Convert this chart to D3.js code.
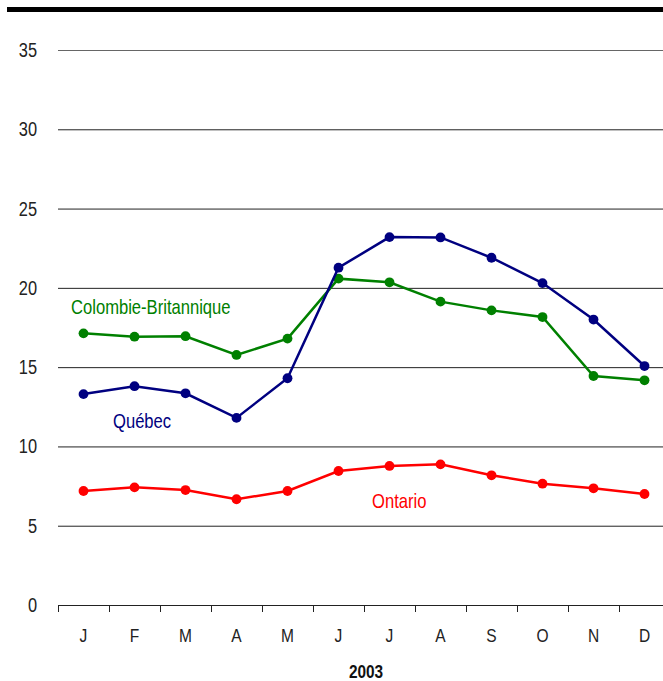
<!DOCTYPE html>
<html>
<head>
<meta charset="utf-8">
<script src="https://cdn.jsdelivr.net/npm/d3@7"></script>
<style>
body { margin: 0; background: #fff; }
text { font-family: "Liberation Sans Narrow", "Arial Narrow", "Liberation Sans", Arial, sans-serif; }
</style>
</head>
<body>
<svg id="chart" width="663" height="681"></svg>
<script>
const months = ["J","F","M","A","M","J","J","A","S","O","N","D"];
const yTicks = [0,5,10,15,20,25,30,35];
const quebec = [13.3,13.8,13.35,11.8,14.3,21.27,23.2,23.18,21.9,20.3,18.0,15.07];
const colombie = [17.13,16.92,16.95,15.77,16.8,20.58,20.35,19.13,18.58,18.16,14.44,14.17];
const ontario = [7.19,7.42,7.25,6.67,7.19,8.45,8.77,8.87,8.18,7.65,7.36,7.0];

const width = 663;
const plotLeft = 58;
const plotRight = 663;
const narrow = 0.8;

const svg = d3.select("#chart");

const x = d3.scaleBand()
    .domain(d3.range(12))
    .range([plotLeft, plotLeft + 12*51]);

const y = d3.scaleLinear()
    .domain([0,35])
    .range([605,50]);

// condensed text: the narrow font is not around, so squeeze a normal one
const narrowText = (parent,str,tx,ty,size,anchor,sx=narrow) =>
{
    return parent.append("text")
        .attr("transform",`translate(${tx},${ty}) scale(${sx},1)`)
        .attr("text-anchor",anchor)
        .attr("font-size",size)
        .text(str);
}

// top bar
svg.append("rect")
    .attr("x",7)
    .attr("y",7)
    .attr("width",width-7)
    .attr("height",5)
    .attr("fill","#000");

// grid lines
svg.append("g")
    .selectAll("line")
    .data(yTicks.filter(d => d > 0))
    .join("line")
    .attr("x1",plotLeft)
    .attr("x2",plotRight)
    .attr("y1",d => y(d)+0.5)
    .attr("y2",d => y(d)+0.5)
    .attr("stroke",d => d == 35 ? "#666" : "#222")
    .attr("stroke-width",1);

// y labels
const yLab = svg.append("g").attr("fill","#222");
for (const t of yTicks)
{
    narrowText(yLab,t,37,y(t)+7,20.5,"end");
}

// x axis
const xAxis = svg.append("g");
xAxis.append("line")
    .attr("x1",plotLeft)
    .attr("x2",plotRight)
    .attr("y1",605.5)
    .attr("y2",605.5)
    .attr("stroke","#222");

xAxis.selectAll("line.tick")
    .data(d3.range(12))
    .join("line")
    .attr("class","tick")
    .attr("x1",d => x(d)+0.5)
    .attr("x2",d => x(d)+0.5)
    .attr("y1",605)
    .attr("y2",612)
    .attr("stroke","#222");

const xLab = xAxis.append("g").attr("fill","#222");
months.forEach((m,i) =>
{
    narrowText(xLab,m,x(i) + x.bandwidth()/2,642,18.5,"middle",0.84);
});

narrowText(svg,"2003",366,678,17.5,"middle",0.88)
    .attr("font-weight","bold")
    .attr("fill","#111");

const series = [
    {name:"Ontario", values:ontario, color:"#ff0000"},
    {name:"Colombie-Britannique", values:colombie, color:"#008000"},
    {name:"Québec", values:quebec, color:"#000080"}
];

const line = d3.line()
    .x((d,i) => x(i) + x.bandwidth()/2)
    .y(d => y(d));

for (const s of series)
{
    const g = svg.append("g");
    g.append("path")
        .attr("d",line(s.values))
        .attr("fill","none")
        .attr("stroke",s.color)
        .attr("stroke-width",2.5);
    g.selectAll("circle")
        .data(s.values)
        .join("circle")
        .attr("cx",(d,i) => x(i) + x.bandwidth()/2)
        .attr("cy",d => y(d))
        .attr("r",4.9)
        .attr("fill",s.color);
}

// series labels
const labels = [
    {text:"Colombie-Britannique", x:71, y:314, color:"#008000"},
    {text:"Québec", x:113, y:428, color:"#000080"},
    {text:"Ontario", x:372, y:508, color:"#ff0000"}
];

for (const l of labels)
{
    narrowText(svg,l.text,l.x,l.y,20.5,"start",0.81)
        .attr("fill",l.color);
}
</script>
</body>
</html>
